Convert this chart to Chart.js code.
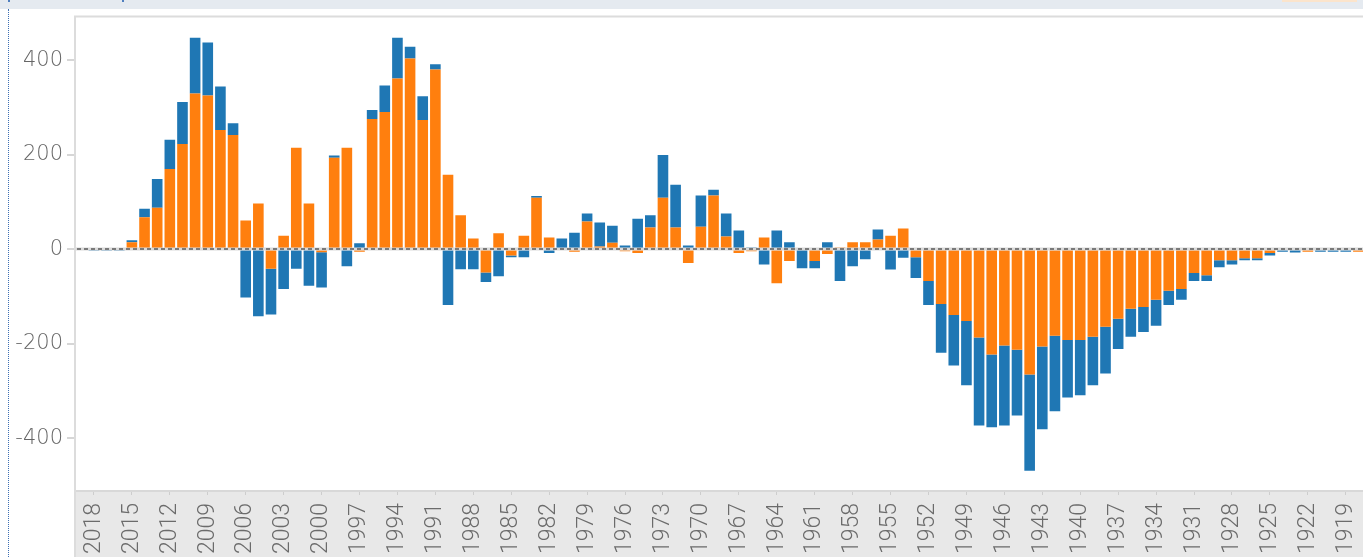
<!DOCTYPE html>
<html>
<head>
<meta charset="utf-8">
<script src="https://cdn.jsdelivr.net/npm/chart.js@4.4.1/dist/chart.umd.min.js"></script>
<style>
  html, body { margin: 0; padding: 0; background: #fff; overflow: hidden; width: 1363px; height: 557px; }
  #wrap { position: absolute; left: 0; top: 0; width: 1394px; height: 557px; }
  #strip { position: absolute; left: 0; top: 0; width: 1363px; height: 9px; background: #e5eaf0; }
  #strip-o { position: absolute; left: 1282px; top: 0; width: 75px; height: 2px; background: #fbe4cc; }
  #dots { position: absolute; left: 8px; top: 9px; width: 0; height: 548px; border-left: 1px dotted #3d6fb3; }
  .mark { position: absolute; top: 0; width: 2px; height: 2px; background: #4f7fbf; }
</style>
</head>
<body>
<div id="wrap"><canvas id="chart"></canvas></div>
<div id="strip"></div>
<div id="strip-o"></div>
<div class="mark" style="left:8px"></div>
<div class="mark" style="left:122px"></div>
<div id="dots"></div>
<script>
const years = [2019,2018,2017,2016,2015,2014,2013,2012,2011,2010,
  2009,2008,2007,2006,2005,2004,2003,2002,2001,2000,
  1999,1998,1997,1996,1995,1994,1993,1992,1991,1990,
  1989,1988,1987,1986,1985,1984,1983,1982,1981,1980,
  1979,1978,1977,1976,1975,1974,1973,1972,1971,1970,
  1969,1968,1967,1966,1965,1964,1963,1962,1961,1960,
  1959,1958,1957,1956,1955,1954,1953,1952,1951,1950,
  1949,1948,1947,1946,1945,1944,1943,1942,1941,1940,
  1939,1938,1937,1936,1935,1934,1933,1932,1931,1930,
  1929,1928,1927,1926,1925,1924,1923,1922,1921,1920,
  1919,1918];

// lower segment of each stack
const orangeVals = [0,0,0,0,15,68,88,170,223,330,
  326,253,242,61,97,-41,29,215,97,-6,
  194,215,-5,276,291,362,404,274,381,158,
  72,23,-49,34,-13,29,109,25,3,-5,
  59,6,14,-4,-8,46,109,46,-29,48,
  114,27,-8,-4,25,-72,-25,0,-25,-10,
  4,15,15,21,29,44,-17,-67,-116,-139,
  -152,-187,-223,-204,-213,-265,-206,-183,-192,-192,
  -185,-164,-147,-126,-122,-107,-88,-84,-50,-55,
  -23,-23,-19,-19,-8,0,-2,-5,0,0,
  0,-5];

// upper segment of each stack
const blueVals = [0,-3,-3,-3,4,18,61,62,89,118,
  112,92,25,-102,-142,-97,-84,-41,-77,-75,
  5,-36,13,19,56,86,25,50,11,-118,
  -42,-42,-20,-57,-4,-17,4,-8,20,35,
  17,51,36,8,65,26,91,91,8,66,
  12,49,40,4,-32,40,15,-40,-15,15,
  -67,-36,-21,21,-43,-18,-44,-51,-103,-107,
  -136,-186,-154,-169,-139,-204,-175,-160,-122,-117,
  -103,-99,-64,-59,-53,-55,-30,-23,-17,-12,
  -15,-9,-4,-4,-5,-5,-5,0,-5,-5,
  -5,0];

const xTickYears = [2018,2015,2012,2009,2006,2003,2000,1997,1994,1991,
  1988,1985,1982,1979,1976,1973,1970,1967,1964,1961,1958,1955,1952,
  1949,1946,1943,1940,1937,1934,1931,1928,1925,1922,1919];
const yTickValues = [-400, -200, 0, 200, 400];
const yMin = -512;
const yMax = 493;

const deco = {
  id: 'deco',
  beforeDraw(chart) {
    const {ctx, chartArea: a, width, height} = chart;
    ctx.save();
    ctx.fillStyle = '#e8e8e8';
    ctx.fillRect(a.left, a.bottom, width - a.left, height - a.bottom);
    ctx.restore();
  },
  afterDatasetsDraw(chart) {
    const {ctx, chartArea: a, height, width} = chart;
    const y0 = Math.round(chart.scales.y.getPixelForValue(0));
    ctx.save();
    ctx.lineWidth = 3;
    ctx.strokeStyle = '#dadada';
    ctx.beginPath(); ctx.moveTo(a.left, y0); ctx.lineTo(a.right, y0); ctx.stroke();
    ctx.lineWidth = 2;
    ctx.strokeStyle = '#7a7a7a';
    ctx.setLineDash([4, 3]);
    ctx.beginPath(); ctx.moveTo(a.left + 2, y0); ctx.lineTo(a.right, y0); ctx.stroke();
    ctx.setLineDash([]);
    // frame: top and left edges
    ctx.strokeStyle = '#dcdcdc';
    ctx.lineWidth = 2;
    ctx.beginPath();
    ctx.moveTo(a.left, height); ctx.lineTo(a.left, a.top); ctx.lineTo(width, a.top);
    ctx.stroke();
    ctx.restore();
  }
};

new Chart(document.getElementById('chart'), {
  type: 'bar',
  data: {
    labels: years.map(String),
    datasets: [
      {label: 'a', data: orangeVals, backgroundColor: '#ff7f0e', stack: 's',
       barPercentage: 0.84, categoryPercentage: 1},
      {label: 'b', data: blueVals, backgroundColor: '#1f77b4', stack: 's',
       barPercentage: 0.84, categoryPercentage: 1}
    ]
  },
  options: {
    responsive: true,
    maintainAspectRatio: false,
    animation: false,
    layout: {padding: {top: 14, left: 0, right: 0, bottom: 0}},
    plugins: {legend: {display: false}, tooltip: {enabled: false}},
    scales: {
      x: {
        stacked: true,
        offset: true,
        grid: {
          drawOnChartArea: false, drawTicks: true, offset: false, tickLength: 4, lineWidth: 1,
          color: (c) => xTickYears.includes(years[c.index]) ? '#cdcdcd' : 'rgba(0,0,0,0)'
        },
        border: {display: true, color: '#d8d8d8', width: 2},
        ticks: {
          autoSkip: false, minRotation: 90, maxRotation: 90, padding: 8,
          color: '#6b6b6b',
          font: {family: "Roboto, sans-serif", size: 23, weight: 300},
          callback: (v, i) => xTickYears.includes(years[i]) ? String(years[i]) : ''
        },
        afterFit: (s) => { s.height = 66; }
      },
      y: {
        stacked: true,
        min: yMin,
        max: yMax,
        afterBuildTicks: (s) => { s.ticks = yTickValues.map(v => ({value: v})); },
        grid: {drawOnChartArea: false, drawTicks: true, tickLength: 8, color: '#d6d6d6', lineWidth: 2},
        border: {display: false},
        ticks: {
          padding: 4, color: '#666',
          font: {family: "'DejaVu Sans', sans-serif", size: 21, weight: 200}
        },
        afterFit: (s) => { s.width = 75; }
      }
    }
  },
  plugins: [deco]
});
</script>
</body>
</html>
